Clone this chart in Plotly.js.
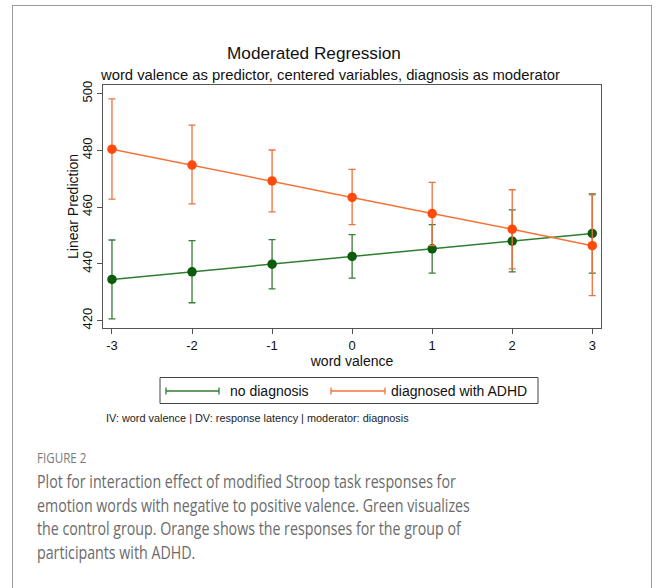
<!DOCTYPE html>
<html>
<head>
<meta charset="utf-8">
<script src="https://cdn.plot.ly/plotly-3.0.1.min.js"></script>
<style>
  body { margin: 0; background: #fff; }
  #wrap { position: relative; width: 656px; height: 588px; overflow: hidden; background: #fff; }
  #frame { position: absolute; left: 12px; top: 5px; width: 638px; height: 640px; border: 1.3px solid #9a9a9a; }
  #chart { position: absolute; left: 0; top: 0; width: 656px; height: 588px; }
  .cap { position: absolute; left: 37px; white-space: nowrap; font-family: 'Open Sans', 'Noto Sans', sans-serif; color: #6b6b6b; transform-origin: 0 0; }
  .figlab { font-size: 14px; line-height: 14px; color: #7a7a7a; top: 451px; transform: scaleX(0.83); }
  .line { font-size: 18px; line-height: 24px; transform: scaleX(0.79); }
</style>
</head>
<body>
<div id="wrap">
  <div id="frame"></div>
  <div id="chart"></div>
  <div class="cap figlab">FIGURE 2</div>
  <div class="cap line" style="top:469px">Plot for interaction effect of modified Stroop task responses for</div>
  <div class="cap line" style="top:492.5px">emotion words with negative to positive valence. Green visualizes</div>
  <div class="cap line" style="top:516px">the control group. Orange shows the responses for the group of</div>
  <div class="cap line" style="top:539.5px">participants with ADHD.</div>
</div>
<script>
// ---- data ----
var valence = [-3, -2, -1, 0, 1, 2, 3];
var noDiag   = [434.5, 437.2, 439.9, 442.6, 445.3, 448.0, 450.7];
var noDiagHi = [448.4, 448.2, 448.5, 450.3, 453.8, 459.0, 464.6];
var noDiagLo = [420.6, 426.3, 431.2, 435.0, 436.7, 437.2, 436.7];
var adhd     = [480.4, 474.8, 469.2, 463.4, 457.7, 452.2, 446.4];
var adhdHi   = [498.1, 488.9, 480.1, 473.3, 468.7, 466.1, 464.3];
var adhdLo   = [462.8, 461.1, 458.3, 453.8, 446.4, 438.2, 428.8];
var xTicks = [-3, -2, -1, 0, 1, 2, 3];
var yTicks = [420, 440, 460, 480, 500];
var seriesNames = ['no diagnosis', 'diagnosed with ADHD'];

// ---- geometry helpers (pixel -> paper) ----
var W = 656, H = 588;
var M = { l: 103, r: 55, t: 85, b: 260 };
var PW = W - M.l - M.r, PH = H - M.t - M.b;
function px(x) { return (x - M.l) / PW; }
function py(y) { return (H - M.b - y) / PH; }

var green = '#0b5c0b', greenLine = '#2f7d2f', greenErr = '#3b7b3b';
var orange = '#ff4a0a', orangeLine = '#f4733a', orangeErr = '#f0703e';

function plus(v, hi) { return v.map(function (d, i) { return hi[i] - d; }); }
function minus(v, lo) { return v.map(function (d, i) { return d - lo[i]; }); }

var traces = [
  {
    x: valence, y: noDiag, type: 'scatter', mode: 'lines+markers', name: seriesNames[0],
    line: { color: greenLine, width: 1.5 },
    marker: { color: green, size: 9.5 },
    error_y: { type: 'data', symmetric: false, array: plus(noDiag, noDiagHi), arrayminus: minus(noDiag, noDiagLo),
               color: greenErr, thickness: 1.3, width: 3.5 }
  },
  {
    x: valence, y: adhd, type: 'scatter', mode: 'lines+markers', name: seriesNames[1],
    line: { color: orangeLine, width: 1.5 },
    marker: { color: orange, size: 9.5 },
    error_y: { type: 'data', symmetric: false, array: plus(adhd, adhdHi), arrayminus: minus(adhd, adhdLo),
               color: orangeErr, thickness: 1.3, width: 3.5 }
  }
];

var FONT = 'Liberation Sans, Arial, Helvetica, sans-serif';

// legend (drawn manually, Stata-style)
var legY = 391;
var shapes = [
  { type: 'rect', xref: 'paper', yref: 'paper', x0: px(160), x1: px(538), y0: py(377.5), y1: py(403.5),
    line: { color: '#444', width: 1 }, fillcolor: 'rgba(0,0,0,0)' },
  { type: 'line', xref: 'paper', yref: 'paper', x0: px(166), x1: px(219), y0: py(legY), y1: py(legY), line: { color: greenLine, width: 1.3 } },
  { type: 'line', xref: 'paper', yref: 'paper', x0: px(166), x1: px(166), y0: py(legY - 3.5), y1: py(legY + 3.5), line: { color: greenLine, width: 1.3 } },
  { type: 'line', xref: 'paper', yref: 'paper', x0: px(219), x1: px(219), y0: py(legY - 3.5), y1: py(legY + 3.5), line: { color: greenLine, width: 1.3 } },
  { type: 'line', xref: 'paper', yref: 'paper', x0: px(331), x1: px(385), y0: py(legY), y1: py(legY), line: { color: orangeLine, width: 1.3 } },
  { type: 'line', xref: 'paper', yref: 'paper', x0: px(331), x1: px(331), y0: py(legY - 3.5), y1: py(legY + 3.5), line: { color: orangeLine, width: 1.3 } },
  { type: 'line', xref: 'paper', yref: 'paper', x0: px(385), x1: px(385), y0: py(legY - 3.5), y1: py(legY + 3.5), line: { color: orangeLine, width: 1.3 } }
];

var annotations = [
  { text: 'Moderated Regression', xref: 'paper', yref: 'paper', x: px(314), y: py(52.5), xanchor: 'center', yanchor: 'middle',
    showarrow: false, font: { family: FONT, size: 17.2, color: '#111' } },
  { text: 'word valence as predictor, centered variables, diagnosis as moderator', xref: 'paper', yref: 'paper',
    x: px(330), y: py(75), xanchor: 'center', yanchor: 'middle', showarrow: false, font: { family: FONT, size: 14.8, color: '#111' } },
  { text: 'Linear Prediction', xref: 'paper', yref: 'paper', x: px(73), y: py(207), xanchor: 'center', yanchor: 'middle',
    textangle: -90, showarrow: false, font: { family: FONT, size: 14, color: '#111' } },
  { text: seriesNames[0], xref: 'paper', yref: 'paper', x: px(227.5), y: py(legY), xanchor: 'left', yanchor: 'middle',
    showarrow: false, font: { family: FONT, size: 14, color: '#111' } },
  { text: seriesNames[1], xref: 'paper', yref: 'paper', x: px(389), y: py(legY), xanchor: 'left', yanchor: 'middle',
    showarrow: false, font: { family: FONT, size: 14, color: '#111' } },
  { text: 'IV: word valence | DV: response latency | moderator: diagnosis', xref: 'paper', yref: 'paper',
    x: px(104), y: py(417.5), xanchor: 'left', yanchor: 'middle', showarrow: false, font: { family: FONT, size: 10.9, color: '#222' } }
];

var layout = {
  width: W, height: H,
  margin: M,
  paper_bgcolor: 'rgba(0,0,0,0)',
  plot_bgcolor: '#ffffff',
  showlegend: false,
  font: { family: FONT, color: '#111' },
  xaxis: {
    range: [-3.112, 3.109], tickvals: xTicks, ticktext: xTicks.map(String),
    showgrid: false, zeroline: false, showline: true, mirror: true, linecolor: '#555', linewidth: 1.2,
    ticks: 'outside', ticklen: 5, tickcolor: '#555', tickfont: { family: FONT, size: 13, color: '#111' },
    title: { text: 'word valence', font: { family: FONT, size: 14, color: '#111' }, standoff: 3 }
  },
  yaxis: {
    range: [417.4, 503], tickvals: yTicks, ticktext: yTicks.map(String), tickangle: -90,
    showgrid: false, zeroline: false, showline: true, mirror: true, linecolor: '#555', linewidth: 1.2,
    ticks: 'outside', ticklen: 5, tickcolor: '#555', tickfont: { family: FONT, size: 13, color: '#111' }
  },
  shapes: shapes,
  annotations: annotations
};

Plotly.newPlot('chart', traces, layout, { displayModeBar: false, staticPlot: true });
</script>
</body>
</html>
